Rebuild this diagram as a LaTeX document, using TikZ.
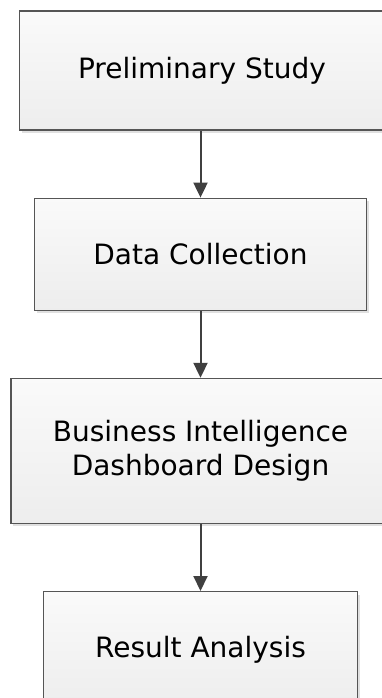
\documentclass[tikz,border=0pt]{standalone}
\usepackage{fontspec}
\setmainfont{DejaVu Sans}
\usetikzlibrary{arrows.meta,positioning,shadows}

\definecolor{boxline}{HTML}{555555}
\definecolor{arrowline}{HTML}{404040}

\begin{document}
\begin{tikzpicture}[
  stepbox/.style = {draw=boxline,line width=1.2pt,top color=white!98!black,bottom color=white!93!black,
    drop shadow={shadow xshift=2pt,shadow yshift=-3pt,fill=black!12,opacity=1},
    align=center,font=\fontsize{28}{34}\selectfont,inner sep=0pt},
  link/.style = {-{Triangle[width=14pt,length=15pt]},draw=arrowline,line width=2pt},
  node distance = 67pt]

\useasboundingbox (0,0) rectangle (381pt,-698pt);

\node[stepbox,minimum width=365pt,minimum height=119pt] (ps) at (202pt,-70.5pt) {Preliminary Study};
\node[stepbox,minimum width=332pt,minimum height=112pt] (dc) [below=of ps,xshift=-1.5pt] {Data Collection};
\node[stepbox,minimum width=379pt,minimum height=145pt] (bi) [below=of dc] {Business Intelligence\\Dashboard Design};
\node[stepbox,minimum width=314pt,minimum height=117pt] (ra) [below=of bi] {Result Analysis};


\path (ps.south -| dc) edge[link] (dc);
\path (dc) edge[link] (bi);
\path (bi) edge[link] (ra);

\end{tikzpicture}
\end{document}
